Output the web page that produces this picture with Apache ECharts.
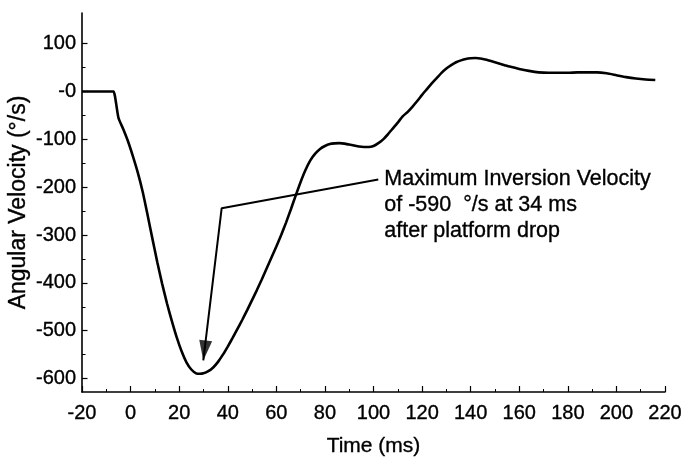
<!DOCTYPE html>
<html><head><meta charset="utf-8">
<script src="https://cdn.jsdelivr.net/npm/echarts@6/dist/echarts.min.js"></script>
<style>html,body{margin:0;padding:0;background:#fff}#c{width:684px;height:468px}</style>
</head><body><div id="c"></div>
<script>
// Data
const timeMs = [-20, -8, -7, -5, -3, -1, 1, 3, 5, 7, 9, 11, 13, 15, 17, 19, 21, 23, 25, 27, 28.5, 30, 32, 34, 36, 38, 40, 42, 44, 46, 48, 50, 52, 54, 56, 58, 60, 62, 64, 66, 68, 70, 72, 74, 76, 78, 80, 82, 84, 86, 88, 90, 92, 94, 96, 98, 100, 102, 104, 106, 108, 110, 112, 114, 116, 118, 120, 122, 124, 126, 128, 130, 132, 134, 136, 138, 140, 142, 144, 146, 148, 150, 152, 154, 156, 160, 164, 168, 172, 176, 180, 184, 188, 192, 196, 200, 204, 208, 212, 216];
const velocity = [0, 0, 0, -55, -79, -105, -136, -170, -210, -258, -308, -357, -402, -443, -480, -514, -543, -566, -581, -589, -590, -589, -584.5, -576.7, -565, -550, -533, -515, -496, -477, -457, -436, -415, -393, -370, -347, -324, -300, -274, -246, -217, -189, -164, -144, -130, -120, -114, -110, -108.5, -108, -109, -111, -113, -115, -116, -116, -114, -108, -100, -89, -77, -65, -52, -43, -32, -20, -7, 5, 17, 28, 39, 48, 55, 61, 65, 68, 69.5, 70, 69, 67, 64, 61, 58, 55, 52, 47, 43, 40, 39, 39, 39, 40, 40, 40, 38, 34, 30, 27, 25, 24];
const annotTime = [101.97, 37.5, 29.93];
const annotVel = [-184, -244, -562];
const xLabelValues = [-20, 0, 20, 40, 60, 80, 100, 120, 140, 160, 180, 200, 220];
const yMajorTicks = [100, 0, -100, -200, -300, -400, -500, -600];
const yMinorTicks = [50, -50, -150, -250, -350, -450, -550];
const annotLines = ['Maximum Inversion Velocity', 'of -590  \u00b0/s at 34 ms', 'after platform drop'];

const FONT = '"Liberation Sans", Arial, Helvetica, sans-serif';
const TXT = {fontFamily: FONT, color: '#000', textBorderColor: '#000', textBorderWidth: 0.35};
const chart = echarts.init(document.getElementById('c'), null, {renderer: 'canvas'});
const curve = timeMs.map((t, i) => [t, velocity[i]]);
const annot = annotTime.map((t, i) => [t, annotVel[i]]);
const Y_MIN = -628, Y_MAX = 164;

chart.setOption({
  animation: false,
  backgroundColor: '#fff',
  grid: {left: 82, right: 19, top: 13, bottom: 76, containLabel: false, outerBoundsMode: 'none'},
  xAxis: {
    type: 'value', min: -20, max: 220, interval: 20,
    name: 'Time (ms)', nameLocation: 'middle', nameGap: 44, nameMoveOverlap: false,
    nameTextStyle: Object.assign({fontSize: 21}, TXT),
    axisLine: {show: true, onZero: false, lineStyle: {color: '#000', width: 1.6}},
    axisTick: {show: true, inside: true, length: 6, lineStyle: {color: '#000', width: 1.2}},
    minorTick: {show: true, splitNumber: 2, length: 3, lineStyle: {color: '#000', width: 1}},
    axisLabel: Object.assign({customValues: xLabelValues, margin: 11, fontSize: 20}, TXT),
    splitLine: {show: false}
  },
  yAxis: [{
    type: 'value', min: Y_MIN, max: Y_MAX,
    name: 'Angular Velocity (\u00b0/s)', nameLocation: 'middle', nameGap: 52, nameMoveOverlap: false,
    nameTextStyle: Object.assign({fontSize: 23}, TXT),
    axisLine: {show: true, onZero: false, lineStyle: {color: '#000', width: 1.6}},
    axisTick: {show: true, inside: true, length: 5.5, customValues: yMajorTicks, lineStyle: {color: '#000', width: 1.2}},
    axisLabel: Object.assign({customValues: yMajorTicks, margin: 6, fontSize: 20,
      formatter: v => (v === 0 ? '-0' : String(v))}, TXT),
    splitLine: {show: false}
  }, {
    type: 'value', min: Y_MIN, max: Y_MAX, position: 'left',
    axisLine: {show: false, onZero: false},
    axisTick: {show: true, inside: true, length: 3.5, customValues: yMinorTicks, lineStyle: {color: '#000', width: 1}},
    axisLabel: {show: false},
    splitLine: {show: false}
  }],
  series: [{
    type: 'line', data: curve, showSymbol: false, symbol: 'none', smooth: 0.2,
    lineStyle: {color: '#000', width: 2.6}, z: 3
  }, {
    type: 'line', data: annot, symbol: 'none', showSymbol: false,
    lineStyle: {color: '#000', width: 2}, z: 4,
    markPoint: {
      symbol: 'circle', symbolSize: 0,
      data: [{coord: annot[0]}],
      label: Object.assign({show: true, position: 'right', distance: 6, offset: [0, 26],
        formatter: annotLines.join('\n'), lineHeight: 26, align: 'left', fontSize: 21.5}, TXT)
    }
  }, {
    type: 'scatter', data: [annot[2]],
    symbol: 'path://M4.05,20.64 L12.9,1.56 L0,0 Z', symbolSize: [12.9, 20.64], symbolKeepAspect: false,
    symbolOffset: [2.4, -10.3],
    itemStyle: {color: '#000'}, z: 5, silent: true
  }]
});
</script></body></html>
